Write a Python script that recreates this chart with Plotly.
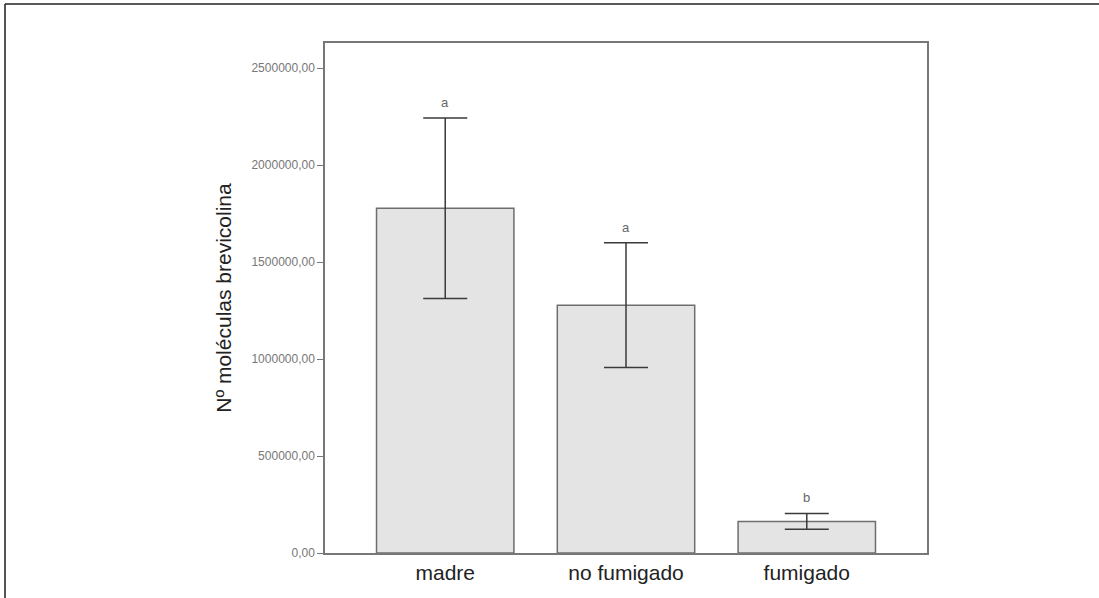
import plotly.graph_objects as go

categories = ["madre", "no fumigado", "fumigado"]
means = [1778000, 1278000, 163000]
errors = [465000, 322000, 41000]
letters = ["a", "a", "b"]
tick_vals = [0, 500000, 1000000, 1500000, 2000000, 2500000]
tick_text = ["0,00", "500000,00", "1000000,00", "1500000,00", "2000000,00", "2500000,00"]

W, H = 1099, 598
ml, mr, mt, mb = 325, 172, 43, 45

fig = go.Figure()
fig.add_trace(go.Bar(
    x=categories, y=means,
    width=0.76,
    marker=dict(color="#e4e4e4", line=dict(color="#6e6e6e", width=1.5)),
    error_y=dict(type="data", array=errors, visible=True, color="#3a3a3a",
                 thickness=1.5, width=22),
    showlegend=False, hoverinfo="skip",
))

for c, m, e, l in zip(categories, means, errors, letters):
    fig.add_annotation(x=c, y=m + e, text=l, showarrow=False, yanchor="bottom",
                       yshift=6, font=dict(family="Liberation Sans, Arial", size=13, color="#666"))

pw = W - ml - mr
ph = H - mt - mb
# outer figure frame (left and top edges)
fig.add_shape(type="line", xref="paper", yref="paper",
              x0=(5 - ml) / pw, x1=(5 - ml) / pw, y0=1 + (mt - 4) / ph, y1=-(mb + 5) / ph,
              line=dict(color="#555", width=2))
fig.add_shape(type="line", xref="paper", yref="paper",
              x0=(5 - ml) / pw, x1=(W + 5 - ml) / pw, y0=1 + (mt - 4) / ph, y1=1 + (mt - 4) / ph,
              line=dict(color="#222", width=1.5))

fig.update_layout(
    width=W, height=H,
    margin=dict(l=ml, r=mr, t=mt, b=mb, pad=0),
    paper_bgcolor="white", plot_bgcolor="white",
    xaxis=dict(range=[-0.665, 2.665], showline=True, linecolor="#777", linewidth=1.5,
               mirror=True, ticks="", showgrid=False,
               tickfont=dict(family="Liberation Sans, Arial", size=21, color="#222")),
    yaxis=dict(range=[0, 2630000], tickvals=tick_vals, ticktext=tick_text,
               showline=True, linecolor="#777", linewidth=1.5, mirror=True,
               ticks="outside", ticklen=6, tickcolor="#777", tickwidth=1.2,
               showgrid=False, zeroline=False,
               tickfont=dict(family="Liberation Sans, Arial", size=12, color="#777"),
               title=dict(text="Nº moléculas brevicolina", standoff=14,
                          font=dict(family="Liberation Sans, Arial", size=21, color="#222"))),
)

fig.write_html("out.html", config={"displayModeBar": False},
               post_script="document.body.style.margin='0';document.body.style.overflow='hidden';")
